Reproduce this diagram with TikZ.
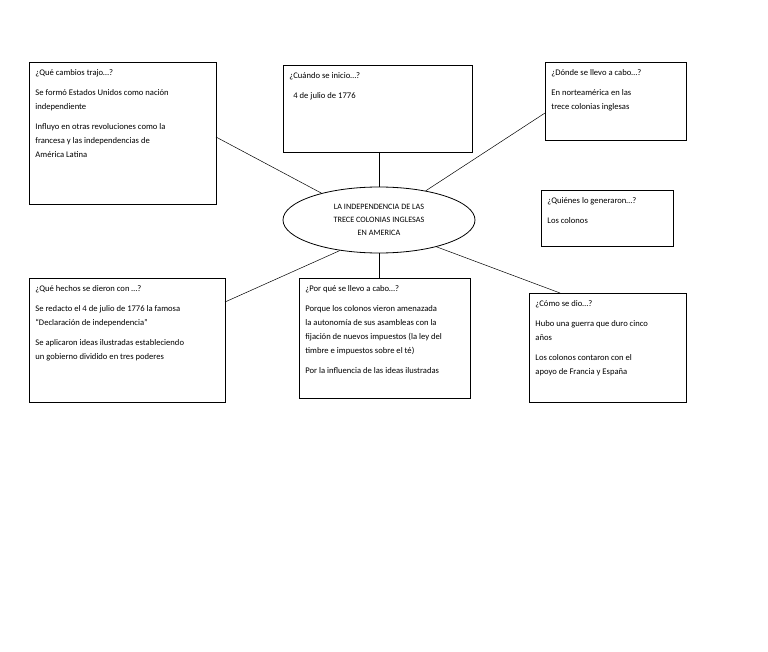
\documentclass[tikz,border=0pt]{standalone}
\usepackage{fontspec}
\setmainfont{Carlito}
\usetikzlibrary{shapes.geometric}
\tikzset{
 box/.style={draw,thick,anchor=north west,inner sep=0pt,font=\fontsize{8.6}{14}\selectfont},
 ln/.style={draw,line width=0.5pt}
}
\newcommand{\bx}[3]{\parbox[t][#2pt][t]{#1pt}{\raggedright\leftskip=6pt\parskip=6pt\vspace{1pt}#3}}
\begin{document}
\begin{tikzpicture}[x=1pt,y=-1pt]
\useasboundingbox (0,0) rectangle (768,652);
\node[box] (b1) at (29,62) {\bx{187}{142}{¿Qué cambios trajo…?\par Se formó Estados Unidos como nación\\ independiente\par Influyo en otras revoluciones como la\\ francesa y las independencias de\\ América Latina}};
\node[box] (b2) at (283,65) {\bx{189}{87}{¿Cuándo se inicio…?\par\hspace*{4pt}4 de julio de 1776}};
\node[box] (b3) at (545,62) {\bx{141}{78}{¿Dónde se llevo a cabo…?\par En norteamérica en las\\ trece colonias inglesas}};
\node[box] (b4) at (541,190) {\bx{132}{56}{¿Quiénes lo generaron…?\par Los colonos}};
\node[box] (b6) at (29,278) {\bx{196}{124}{¿Qué hechos se dieron con …?\par Se redacto el 4 de julio de 1776 la famosa\\ “Declaración de independencia”\par Se aplicaron ideas ilustradas estableciendo\\ un gobierno dividido en tres poderes}};
\node[box] (b7) at (299,278) {\bx{171}{120}{¿Por qué se llevo a cabo…?\par Porque los colonos vieron amenazada\\ la autonomía de sus asambleas con la\\ fijación de nuevos impuestos (la ley del\\ timbre e impuestos sobre el té)\par Por la influencia de las ideas ilustradas}};
\node[box] (b8) at (529,293) {\bx{157}{109}{¿Cómo se dio…?\par Hubo una guerra que duro cinco\\ años\par Los colonos contaron con el\\ apoyo de Francia y España}};
\node[ellipse,draw,thick,minimum width=192pt,minimum height=66pt,align=center,font=\fontsize{8.2}{13}\selectfont] (el) at (379,220) {LA INDEPENDENCIA DE LAS\\TRECE COLONIAS INGLESAS\\EN AMERICA};
\coordinate (p1) at (216,137);
\coordinate (p3) at (545,113);
\coordinate (p6) at (225,302);
\coordinate (p8) at (560,293);
\coordinate (t2) at (379,152);
\draw[ln] (p1) -- (el.155);
\draw[ln] (t2) -- (el.north);
\draw[ln] (p3) -- (el.32);
\draw[ln] (p6) -- (el.218);
\draw[ln] (el.south) -- (b7.north -| el.south);
\draw[ln] (el.-25) -- (p8);
\end{tikzpicture}
\end{document}
